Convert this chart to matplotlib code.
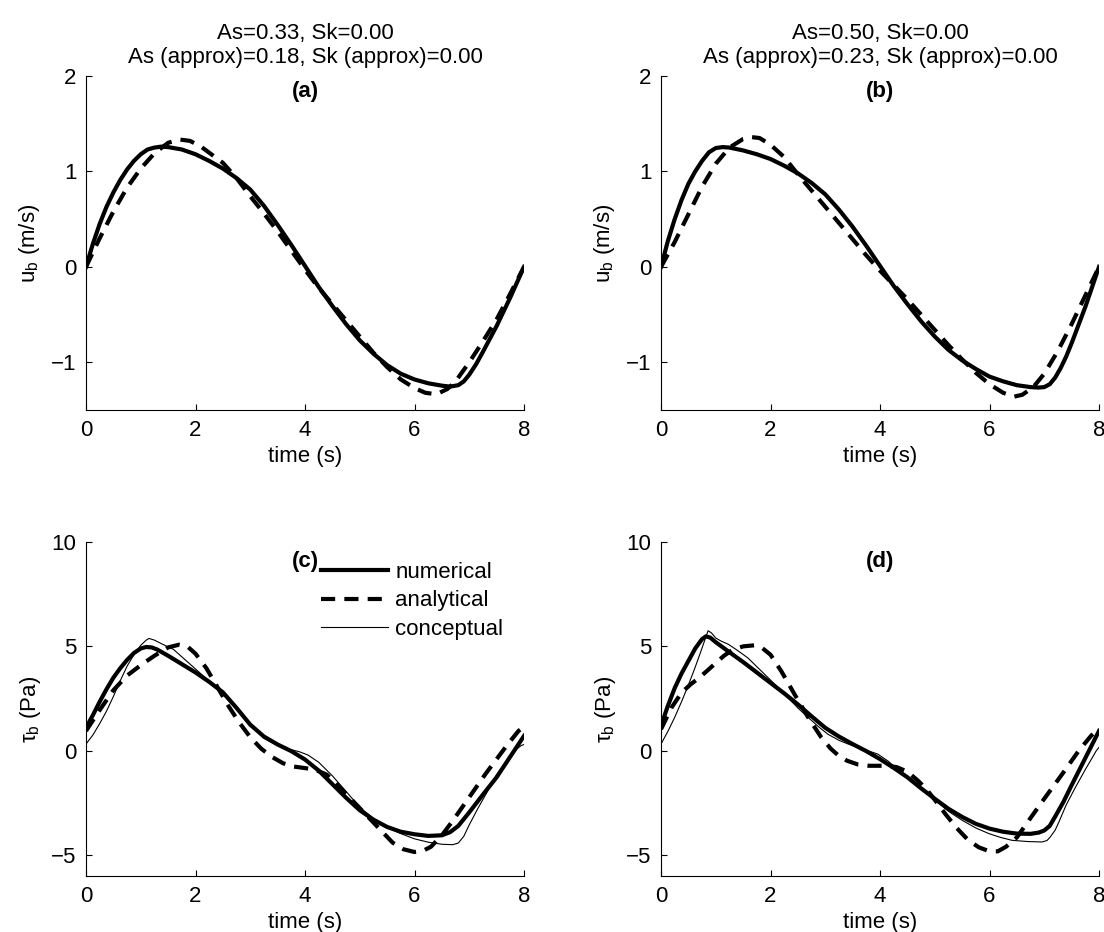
import matplotlib
matplotlib.use('Agg')
import matplotlib.pyplot as plt

plt.rcParams['font.family'] = ['Liberation Sans', 'DejaVu Sans']
plt.rcParams['mathtext.fontset'] = 'custom'
plt.rcParams['mathtext.rm'] = 'Liberation Sans'
plt.rcParams['mathtext.it'] = 'Liberation Sans'
plt.rcParams['mathtext.bf'] = 'Liberation Sans:bold'
plt.rcParams['font.size'] = 16

# ---- panel (a): u_b, As=0.33 ----
t_a_num = [0, 0.125, 0.25, 0.375, 0.5, 0.625, 0.75, 0.875, 1.0, 1.125, 1.25, 1.375, 1.5, 1.75,
           2.0, 2.25, 2.5, 2.75, 3.0, 3.25, 3.5, 3.75, 4.0, 4.25, 4.5, 4.75, 5.0, 5.25, 5.5,
           5.75, 6.0, 6.25, 6.5, 6.65, 6.8, 6.9, 7.0, 7.125, 7.25, 7.5, 7.75, 8.0]
u_a_num = [0, 0.24, 0.45, 0.63, 0.78, 0.91, 1.02, 1.11, 1.18, 1.23, 1.25, 1.26, 1.255, 1.23,
           1.18, 1.11, 1.03, 0.93, 0.81, 0.64, 0.44, 0.23, 0.01, -0.21, -0.41, -0.6, -0.77, -0.91, -1.03,
           -1.12, -1.18, -1.22, -1.245, -1.255, -1.24, -1.2, -1.13, -1.02, -0.89, -0.62, -0.32, 0]
t_a_ana = [0, 0.25, 0.5, 0.75, 1.0, 1.25, 1.5, 1.7, 1.9, 2.1, 2.5, 2.75, 3.0, 3.25, 3.5, 3.75,
           4.0, 4.25, 4.5, 4.75, 5.0, 5.25, 5.5, 5.75, 6.0, 6.2, 6.4, 6.6, 6.75, 7.0, 7.25, 7.5,
           7.75, 8.0]
u_a_ana = [0, 0.3, 0.58, 0.83, 1.03, 1.19, 1.3, 1.335, 1.32, 1.26, 1.09, 0.93, 0.74, 0.56, 0.37, 0.17,
           -0.03, -0.22, -0.39, -0.56, -0.73, -0.9, -1.05, -1.18, -1.27, -1.32, -1.335, -1.28, -1.2, -1.0,
           -0.78, -0.55, -0.28, 0]

# ---- panel (b): u_b, As=0.50 ----
t_b_num = [0, 0.125, 0.25, 0.375, 0.5, 0.625, 0.75, 0.875, 1.0, 1.125, 1.25, 1.5, 1.75, 2.0,
           2.25, 2.5, 2.75, 3.0, 3.25, 3.5, 3.75, 4.0, 4.25, 4.5, 4.75, 5.0, 5.25, 5.5, 5.75,
           6.0, 6.25, 6.5, 6.75, 6.9, 7.0, 7.1, 7.2, 7.3, 7.4, 7.5, 7.75, 8.0]
u_b_num = [0, 0.27, 0.5, 0.7, 0.87, 1.0, 1.11, 1.2, 1.245, 1.255, 1.25, 1.22, 1.18, 1.13,
           1.06, 0.98, 0.88, 0.76, 0.6, 0.42, 0.22, 0.01, -0.2, -0.39, -0.57, -0.73, -0.87, -0.98, -1.07,
           -1.15, -1.2, -1.24, -1.26, -1.265, -1.26, -1.23, -1.16, -1.06, -0.94, -0.8, -0.42, 0]
t_b_ana = [0, 0.25, 0.5, 0.75, 1.0, 1.25, 1.5, 1.65, 1.8, 2.0, 2.25, 2.5, 2.75, 3.0, 3.25, 3.5,
           3.75, 4.0, 4.25, 4.5, 4.75, 5.0, 5.25, 5.5, 5.75, 6.0, 6.25, 6.45, 6.6, 6.8, 7.0, 7.25,
           7.5, 7.75, 8.0]
u_b_ana = [0, 0.26, 0.55, 0.84, 1.08, 1.25, 1.34, 1.36, 1.35, 1.28, 1.15, 0.97, 0.8, 0.63, 0.46, 0.29,
           0.12, -0.04, -0.19, -0.34, -0.5, -0.66, -0.82, -0.97, -1.11, -1.23, -1.32, -1.36, -1.34, -1.26,
           -1.12, -0.88, -0.6, -0.3, 0]

# ---- panel (c): tau_b, As=0.33 ----
t_c_num = [0, 0.125, 0.25, 0.375, 0.5, 0.625, 0.75, 0.875, 1.0, 1.1, 1.2, 1.3, 1.5, 1.75, 2.0,
           2.25, 2.5, 2.75, 3.0, 3.25, 3.5, 3.75, 4.0, 4.25, 4.5, 4.75, 5.0, 5.25, 5.5, 5.75,
           6.0, 6.25, 6.5, 6.65, 6.8, 7.0, 7.25, 7.5, 7.75, 8.0]
tau_c_num = [1.1, 1.7, 2.35, 2.95, 3.5, 3.95, 4.35, 4.68, 4.9, 4.97, 4.95, 4.85, 4.55, 4.15, 3.75,
             3.3, 2.8, 2.05, 1.25, 0.68, 0.3, -0.02, -0.42, -0.95, -1.6, -2.25, -2.85, -3.3, -3.65, -3.88,
             -4.0, -4.08, -4.05, -3.9, -3.6, -2.95, -2.1, -1.27, -0.28, 0.71]
t_c_ana = [0, 0.25, 0.5, 0.75, 1.0, 1.25, 1.5, 1.7, 1.85, 2.0, 2.2, 2.4, 2.6, 2.8, 3.0, 3.2,
           3.4, 3.6, 3.8, 4.0, 4.2, 4.4, 4.6, 4.8, 5.0, 5.2, 5.4, 5.6, 5.8, 6.0, 6.15, 6.3,
           6.5, 6.7, 6.9, 7.1, 7.3, 7.5, 7.7, 7.9, 8.0]
tau_c_ana = [0.95, 1.95, 2.9, 3.6, 4.1, 4.55, 4.95, 5.08, 5.0, 4.65, 3.95, 3.05, 2.15, 1.35, 0.65, 0.1,
             -0.3, -0.6, -0.76, -0.83, -0.92, -1.15, -1.65, -2.2, -2.75, -3.3, -3.85, -4.4, -4.72, -4.85,
             -4.8, -4.6, -4.05, -3.35, -2.6, -1.85, -1.1, -0.4, 0.3, 0.95, 1.15]
t_c_con = [0, 0.125, 0.25, 0.375, 0.5, 0.625, 0.75, 0.875, 1.0, 1.1, 1.15, 1.25, 1.4, 1.6, 1.9,
           2.2, 2.5, 2.75, 3.0, 3.25, 3.5, 3.75, 3.9, 4.05, 4.25, 4.5, 4.75, 5.0, 5.25, 5.5,
           5.75, 6.0, 6.25, 6.5, 6.7, 6.8, 6.9, 7.0, 7.15, 7.3, 7.5, 7.7, 7.85, 7.95, 8.0]
tau_c_con = [0.32, 0.75, 1.3, 1.9, 2.6, 3.35, 4.05, 4.6, 5.05, 5.3, 5.38, 5.3, 5.1, 4.85, 4.15,
             3.45, 2.7, 2.0, 1.25, 0.6, 0.25, 0.05, -0.05, -0.2, -0.55, -1.2, -1.95, -2.7, -3.25, -3.67,
             -3.97, -4.22, -4.38, -4.48, -4.5, -4.42, -4.1, -3.55, -2.8, -2.1, -1.15, -0.45, 0.05, 0.25, 0.3]

# ---- panel (d): tau_b, As=0.50 ----
t_d_num = [0, 0.125, 0.25, 0.375, 0.5, 0.625, 0.75, 0.82, 0.9, 1.0, 1.25, 1.5, 1.75, 2.0, 2.25,
           2.5, 2.75, 3.0, 3.25, 3.5, 3.75, 4.0, 4.25, 4.5, 4.75, 5.0, 5.25, 5.5, 5.75, 6.0,
           6.25, 6.5, 6.75, 6.9, 7.0, 7.1, 7.2, 7.35, 7.5, 7.75, 8.0]
tau_d_num = [1.19, 2.15, 3.0, 3.7, 4.3, 4.9, 5.35, 5.48, 5.42, 5.2, 4.72, 4.25, 3.75, 3.25, 2.75,
             2.22, 1.65, 1.1, 0.68, 0.32, -0.02, -0.4, -0.82, -1.27, -1.8, -2.3, -2.78, -3.17, -3.5, -3.73,
             -3.88, -3.97, -3.98, -3.92, -3.82, -3.6, -3.15, -2.45, -1.65, -0.35, 0.95]
t_d_ana = [0, 0.19, 0.38, 0.55, 0.7, 0.85, 1.0, 1.15, 1.3, 1.5, 1.7, 1.85, 2.0, 2.2, 2.44, 2.69,
           2.93, 3.1, 3.25, 3.4, 3.6, 3.8, 4.1, 4.3, 4.5, 4.7, 4.85, 5.0, 5.2, 5.4, 5.6, 5.8,
           6.0, 6.15, 6.3, 6.5, 6.72, 7.0, 7.33, 7.63, 7.85, 8.0]
tau_d_ana = [1.03, 2.06, 2.8, 3.2, 3.5, 3.85, 4.2, 4.55, 4.82, 5.0, 5.05, 4.92, 4.6, 3.8, 2.7, 1.59,
             0.63, 0.1, -0.25, -0.48, -0.66, -0.72, -0.72, -0.78, -1.0, -1.45, -1.85, -2.35, -3.05, -3.7,
             -4.25, -4.62, -4.82, -4.82, -4.6, -4.15, -3.33, -2.3, -1.11, 0.0, 0.7, 1.1]
t_d_con = [0, 0.13, 0.25, 0.38, 0.5, 0.62, 0.72, 0.8, 0.86, 0.92, 1.0, 1.1, 1.23, 1.4, 1.59,
           1.8, 1.96, 2.15, 2.32, 2.5, 2.69, 2.9, 3.05, 3.25, 3.42, 3.6, 3.78, 3.96, 4.15, 4.35,
           4.58, 5.01, 5.25, 5.5, 5.75, 5.99, 6.2, 6.41, 6.7, 6.96, 7.05, 7.11, 7.2, 7.27, 7.4,
           7.57, 7.75, 7.88, 7.95, 8.0]
tau_d_con = [0.32, 0.95, 1.6, 2.38, 3.15, 3.97, 4.7, 5.3, 5.75, 5.65, 5.4, 5.25, 5.1, 4.8, 4.44,
             3.9, 3.49, 3.0, 2.54, 2.05, 1.59, 1.1, 0.79, 0.5, 0.32, 0.15, 0.0, -0.16, -0.5, -0.95,
             -1.43, -2.38, -2.9, -3.33, -3.7, -3.97, -4.15, -4.29, -4.35, -4.37, -4.3, -4.13, -3.8, -3.4, -2.6,
             -1.75, -0.9, -0.32, 0.0, 0.16]

titles = ['As=0.33, Sk=0.00\nAs (approx)=0.18, Sk (approx)=0.00',
          'As=0.50, Sk=0.00\nAs (approx)=0.23, Sk (approx)=0.00']
panel_tags = ['(a)', '(b)', '(c)', '(d)']
labels = ['numerical', 'analytical', 'conceptual']

fig = plt.figure(figsize=(11.04, 9.32), dpi=100)
W, H = 1104.0, 932.0
lefts = [86 / W, 661 / W]
bottoms = [1 - 410 / H, 1 - 876 / H]
aw, ah = 438 / W, 334 / H

dash = (0, (3.4, 2.2))


def style_axes(ax, ylim, yticks, ylabel):
    ax.set_xlim(0, 8)
    ax.set_ylim(*ylim)
    ax.set_xticks([0, 2, 4, 6, 8])
    ax.set_yticks(yticks)
    ax.spines['top'].set_visible(False)
    ax.spines['right'].set_visible(False)
    for s in ['left', 'bottom']:
        ax.spines[s].set_linewidth(0.8)
    ax.tick_params(direction='in', length=4, width=0.8, pad=7, labelsize=16)
    ax.set_xlabel('time (s)', fontsize=16, labelpad=4)
    ax.set_ylabel(ylabel, fontsize=16, labelpad=6)


top_data = [(t_a_num, u_a_num, t_a_ana, u_a_ana), (t_b_num, u_b_num, t_b_ana, u_b_ana)]
bot_data = [(t_c_num, tau_c_num, t_c_ana, tau_c_ana, t_c_con, tau_c_con),
            (t_d_num, tau_d_num, t_d_ana, tau_d_ana, t_d_con, tau_d_con)]

for i in range(2):
    ax = fig.add_axes([lefts[i], bottoms[0], aw, ah])
    tn, yn, ta, ya = top_data[i]
    ax.plot(tn, yn, color='k', lw=3, solid_joinstyle='round')
    ax.plot(ta, ya, color='k', lw=3, linestyle=dash, dash_capstyle='butt')
    style_axes(ax, (-1.5, 2), [-1, 0, 1, 2], r'$\mathrm{u_b}$ (m/s)')
    ax.set_title(titles[i], fontsize=16, pad=9, linespacing=1.2)
    ax.text(4, 1.84, panel_tags[i], ha='center', va='center', fontweight='bold', fontsize=16)

for i in range(2):
    ax = fig.add_axes([lefts[i], bottoms[1], aw, ah])
    tn, yn, ta, ya, tc, yc = bot_data[i]
    ax.plot(tn, yn, color='k', lw=3, solid_joinstyle='round', label=labels[0])
    ax.plot(ta, ya, color='k', lw=3, linestyle=dash, dash_capstyle='butt', label=labels[1])
    ax.plot(tc, yc, color='k', lw=0.8, label=labels[2])
    style_axes(ax, (-6, 10), [-5, 0, 5, 10], r'$\mathrm{\tau_b}$ (Pa)')
    ax.text(4, 9.05, panel_tags[2 + i], ha='center', va='center', fontweight='bold', fontsize=16)
    if i == 0:
        ax.legend(loc='upper left', bbox_to_anchor=(4.29 / 8, 0.94), frameon=False,
                  borderpad=0, borderaxespad=0, handlelength=3.0, handletextpad=0.35,
                  labelspacing=0.33, fontsize=16)

fig.savefig('out.png', dpi=100)
